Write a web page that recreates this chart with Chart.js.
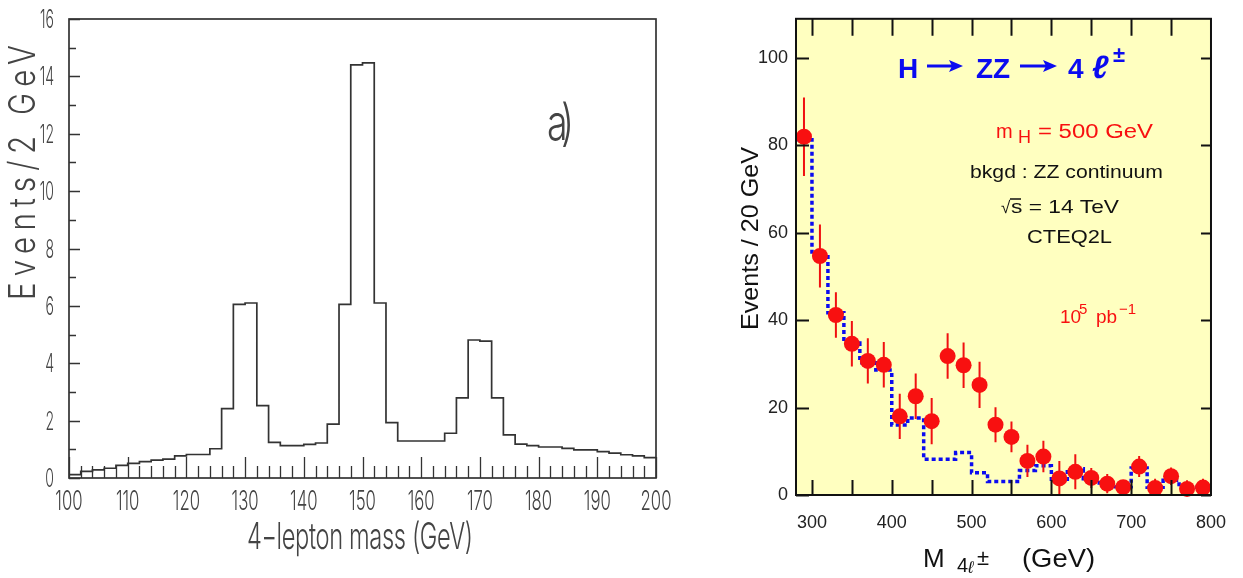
<!DOCTYPE html>
<html>
<head>
<meta charset="utf-8">
<script src="https://cdn.jsdelivr.net/npm/chart.js@4.4.1/dist/chart.umd.min.js"></script>
<style>
  html, body { margin: 0; padding: 0; background: #fff; }
  #wrap { position: relative; width: 1243px; height: 578px; overflow: hidden; }
  #left { position: absolute; left: 0; top: 0; }
  #right { position: absolute; left: 680px; top: 0; }
</style>
</head>
<body>
<div id="wrap">
  <canvas id="left" width="680" height="578"></canvas>
  <canvas id="right" width="563" height="578"></canvas>
</div>
<script>
// ---- left panel: 4-lepton mass, 2 GeV bins ----
var leftEdges = [100, 102, 104, 106, 108, 110, 112, 114, 116, 118,
                 120, 122, 124, 126, 128, 130, 132, 134, 136, 138,
                 140, 142, 144, 146, 148, 150, 152, 154, 156, 158,
                 160, 162, 164, 166, 168, 170, 172, 174, 176, 178,
                 180, 182, 184, 186, 188, 190, 192, 194, 196, 198, 200];
var leftCounts = [0.12, 0.23, 0.28, 0.34, 0.44, 0.51, 0.57, 0.62, 0.66, 0.77,
                  0.82, 0.82, 1.02, 2.42, 6.05, 6.10, 2.52, 1.24, 1.13, 1.13,
                  1.17, 1.22, 1.88, 6.05, 14.40, 14.47, 6.10, 1.93, 1.29, 1.29,
                  1.29, 1.29, 1.56, 2.79, 4.81, 4.77, 2.79, 1.50, 1.18, 1.13,
                  1.08, 1.08, 1.03, 0.98, 0.98, 0.92, 0.87, 0.81, 0.77, 0.71];
var leftXTicks = [100, 110, 120, 130, 140, 150, 160, 170, 180, 190, 200];
var leftYTicks = [0, 2, 4, 6, 8, 10, 12, 14, 16];

// ---- right panel: H -> ZZ -> 4l, 20 GeV bins ----
var rightEdges = [280, 300, 320, 340, 360, 380, 400, 420, 440, 460, 480, 500, 520, 540,
                  560, 580, 600, 620, 640, 660, 680, 700, 720, 740, 760, 780, 800];
var bkgdCounts = [81.3, 55.0, 41.7, 34.8, 30.3, 28.6, 16.0, 17.6, 8.2, 8.2, 9.7, 5.1, 3.1,
                  3.1, 5.6, 6.7, 3.1, 6.0, 3.7, 2.2, 1.9, 6.2, 1.8, 3.4, 1.8, 1.8];
var massPoints = [290, 310, 330, 350, 370, 390, 410, 430, 450, 470, 490, 510, 530,
                  550, 570, 590, 610, 630, 650, 670, 690, 710, 730, 750, 770, 790];
var signalCounts = [82.0, 54.7, 41.2, 34.6, 30.7, 29.8, 18.0, 22.6, 16.9, 31.8, 29.7, 25.2, 16.1,
                    13.3, 7.8, 8.8, 3.8, 5.3, 3.9, 2.6, 1.8, 6.5, 1.6, 4.3, 1.4, 1.7];
var signalErrors = [9.0, 7.2, 5.2, 5.2, 5.2, 5.2, 5.2, 5.2, 5.3, 5.2, 5.2, 5.3, 4.0,
                    3.5, 3.7, 3.6, 4.0, 4.0, 2.3, 2.2, 1.6, 2.4, 2.1, 2.0, 2.0, 2.0];
var rightXTicks = [300, 400, 500, 600, 700, 800];
var rightYTicks = [0, 20, 40, 60, 80, 100];

var thin = 'Inter, "DejaVu Sans Condensed", sans-serif';
var helv = '"Liberation Sans", Arial, sans-serif';

function stepPoints(edges, counts) {
  return edges.map(function (e, i) {
    return { x: e, y: counts[Math.min(i, counts.length - 1)] };
  });
}

function setTicks(list) {
  return function (scale) {
    scale.ticks = list.map(function (v) { return { value: v }; });
  };
}

// free text piece: sx squeezes glyphs, w spreads letters to a target width
function drawPiece(ctx, p) {
  ctx.save();
  ctx.font = p.font;
  ctx.fillStyle = p.color;
  ctx.textBaseline = 'alphabetic';
  ctx.textAlign = p.align || 'left';
  ctx.translate(p.x, p.y);
  if (p.rot) ctx.rotate(p.rot);
  var sx = p.sx || 1;
  if (p.w) {
    var natural = ctx.measureText(p.t).width;
    if (p.sx) {
      ctx.letterSpacing = ((p.w / sx - natural) / Math.max(1, p.t.length - 1)) + 'px';
    } else {
      sx = p.w / natural;
    }
  }
  ctx.scale(sx, 1);
  ctx.fillText(p.t, 0, 0);
  ctx.restore();
}

// frame + inside tick marks
var frameTicks = {
  id: 'frameTicks',
  afterDatasetsDraw: function (chart, args, opts) {
    var ctx = chart.ctx, a = chart.chartArea;
    var xs = chart.scales.x, ys = chart.scales.y;
    ctx.save();
    ctx.strokeStyle = opts.color;
    ctx.lineWidth = opts.tickWidth;
    ctx.beginPath();
    opts.marks.forEach(function (m) {
      for (var v = m.from; v <= m.to + 1e-9; v += m.step) {
        if (m.side === 'bottom' || m.side === 'top') {
          var px = Math.round(xs.getPixelForValue(v)) + 0.5;
          var y0 = m.side === 'bottom' ? a.bottom : a.top;
          var dir = m.side === 'bottom' ? -1 : 1;
          ctx.moveTo(px, y0);
          ctx.lineTo(px, y0 + dir * m.len);
        } else {
          var py = Math.round(ys.getPixelForValue(v)) + 0.5;
          var x0 = m.side === 'left' ? a.left : a.right;
          var d = m.side === 'left' ? 1 : -1;
          ctx.moveTo(x0, py);
          ctx.lineTo(x0 + d * m.len, py);
        }
      }
    });
    ctx.stroke();
    ctx.lineWidth = opts.frameWidth;
    ctx.strokeRect(a.left, a.top, a.right - a.left, a.bottom - a.top);
    ctx.restore();
  }
};

// narrow tick labels taken from the chart's own scale ticks
var narrowTicks = {
  id: 'narrowTicks',
  afterDraw: function (chart, args, opts) {
    var ctx = chart.ctx, xs = chart.scales.x, ys = chart.scales.y;
    xs.ticks.forEach(function (t) {
      drawPiece(ctx, { t: String(t.value), x: xs.getPixelForValue(t.value), y: opts.xBase,
        align: 'center', sx: opts.xsx, font: opts.xFont, color: opts.color });
    });
    ys.ticks.forEach(function (t) {
      drawPiece(ctx, { t: String(t.value), x: opts.yRight, y: ys.getPixelForValue(t.value) + opts.yShift,
        align: 'right', sx: opts.ysx, font: opts.yFont, color: opts.color });
    });
  }
};

var texts = {
  id: 'texts',
  afterDraw: function (chart, args, opts) {
    var ctx = chart.ctx;
    (opts.pieces || []).forEach(function (p) { drawPiece(ctx, p); });
    (opts.arrows || []).forEach(function (r) {
      ctx.save();
      ctx.strokeStyle = r.color;
      ctx.fillStyle = r.color;
      ctx.lineWidth = 3;
      ctx.beginPath();
      ctx.moveTo(r.x0, r.y);
      ctx.lineTo(r.x1 - 10, r.y);
      ctx.stroke();
      ctx.beginPath();
      ctx.moveTo(r.x1, r.y);
      ctx.lineTo(r.x1 - 14, r.y - 6);
      ctx.lineTo(r.x1 - 11, r.y);
      ctx.lineTo(r.x1 - 14, r.y + 6);
      ctx.closePath();
      ctx.fill();
      ctx.restore();
    });
    (opts.lines || []).forEach(function (l) {
      ctx.save();
      ctx.strokeStyle = l.color;
      ctx.lineWidth = 1.5;
      ctx.beginPath();
      ctx.moveTo(l.x0, l.y);
      ctx.lineTo(l.x1, l.y);
      ctx.stroke();
      ctx.restore();
    });
  }
};

// yellow plot background
var plotBg = {
  id: 'plotBg',
  beforeDatasetsDraw: function (chart, args, opts) {
    var a = chart.chartArea, ctx = chart.ctx;
    ctx.save();
    ctx.fillStyle = opts.color;
    ctx.fillRect(a.left, a.top, a.right - a.left, a.bottom - a.top);
    ctx.restore();
  }
};

// vertical error bars under the red points
var errorBars = {
  id: 'errorBars',
  beforeDatasetDraw: function (chart, args) {
    if (args.index !== 0) return;
    var ctx = chart.ctx, xs = chart.scales.x, ys = chart.scales.y;
    ctx.save();
    ctx.strokeStyle = '#f01010';
    ctx.lineWidth = 2;
    ctx.beginPath();
    massPoints.forEach(function (m, i) {
      var px = xs.getPixelForValue(m);
      ctx.moveTo(px, ys.getPixelForValue(Math.max(0, signalCounts[i] - signalErrors[i])));
      ctx.lineTo(px, ys.getPixelForValue(signalCounts[i] + signalErrors[i]));
    });
    ctx.stroke();
    ctx.restore();
  }
};

var grayText = '#444';

new Chart(document.getElementById('left'), {
  type: 'line',
  data: {
    datasets: [{
      data: stepPoints(leftEdges, leftCounts),
      stepped: 'before',
      borderColor: '#333',
      borderWidth: 1.7,
      pointRadius: 0,
      fill: false
    }]
  },
  options: {
    responsive: false,
    animation: false,
    layout: { autoPadding: false, padding: { top: 19, right: 24, left: 0, bottom: 0 } },
    plugins: {
      legend: { display: false },
      tooltip: { enabled: false },
      frameTicks: {
        color: '#333', tickWidth: 1.3, frameWidth: 1.7,
        marks: [
          { side: 'bottom', from: 100, to: 200, step: 2, len: 12 },
          { side: 'bottom', from: 100, to: 200, step: 10, len: 21 },
          { side: 'left', from: 0, to: 16, step: 1, len: 7 },
          { side: 'left', from: 0, to: 16, step: 2, len: 11 }
        ]
      },
      narrowTicks: {
        color: grayText, xsx: 0.62, ysx: 0.54, xFont: '300 27px ' + thin, yFont: '300 26px ' + thin,
        xBase: 510, yRight: 54, yShift: 9
      },
      texts: {
        pieces: [
          { t: 'Events/2 GeV', x: 35, y: 300, rot: -Math.PI / 2, w: 255, sx: 0.8, font: '300 37px ' + thin, color: grayText },
          { t: '4\u2212lepton mass (GeV)', x: 247, y: 549, w: 226, sx: 0.64, font: '300 37px ' + thin, color: grayText },
          { t: 'a)', x: 547, y: 140, w: 27, sx: 0.75, font: '300 50px ' + thin, color: grayText }
        ]
      }
    },
    scales: {
      x: {
        type: 'linear', min: 100, max: 200,
        afterBuildTicks: setTicks(leftXTicks),
        afterFit: function (s) { s.height = 100; },
        grid: { display: false, drawTicks: false },
        border: { display: false },
        ticks: { display: false }
      },
      y: {
        type: 'linear', min: 0, max: 16,
        afterBuildTicks: setTicks(leftYTicks),
        afterFit: function (s) { s.width = 69; },
        grid: { display: false, drawTicks: false },
        border: { display: false },
        ticks: { display: false }
      }
    }
  },
  plugins: [frameTicks, narrowTicks, texts]
});

var blue = '#0b0bf0';
var red = '#f81010';

new Chart(document.getElementById('right'), {
  type: 'scatter',
  data: {
    datasets: [{
      data: massPoints.map(function (m, i) { return { x: m, y: signalCounts[i] }; }),
      backgroundColor: red,
      borderColor: red,
      borderWidth: 0,
      pointRadius: 8,
      clip: false
    }, {
      type: 'line',
      data: stepPoints(rightEdges, bkgdCounts),
      stepped: 'before',
      borderColor: blue,
      borderWidth: 3.5,
      borderDash: [4, 3],
      borderCapStyle: 'butt',
      pointRadius: 0,
      fill: false
    }]
  },
  options: {
    responsive: false,
    animation: false,
    layout: { autoPadding: false, padding: { top: 3, right: 32, left: 0, bottom: 0 } },
    plugins: {
      legend: { display: false },
      tooltip: { enabled: false },
      plotBg: { color: '#ffffc0' },
      frameTicks: {
        color: '#111', tickWidth: 2, frameWidth: 2,
        marks: [
          { side: 'bottom', from: 300, to: 750, step: 50, len: 15 },
          { side: 'top', from: 300, to: 750, step: 50, len: 17 },
          { side: 'left', from: 0, to: 100, step: 20, len: 13 },
          { side: 'right', from: 0, to: 100, step: 20, len: 10 }
        ]
      },
      texts: {
        pieces: [
          { t: 'H', x: 218, y: 78, font: 'bold 28px ' + helv, color: blue },
          { t: 'ZZ', x: 296, y: 78, font: 'bold 28px ' + helv, color: blue },
          { t: '4', x: 388, y: 78, font: 'bold 28px ' + helv, color: blue },
          { t: '\u2113', x: 412, y: 78, font: 'italic bold 32px ' + helv, color: blue },
          { t: '\u00b1', x: 433, y: 62, font: 'bold 22px ' + helv, color: blue },

          { t: 'm', x: 316, y: 138, font: '20px ' + helv, color: red },
          { t: 'H', x: 338, y: 143, font: '18px ' + helv, color: red },
          { t: '= 500 GeV', x: 358, y: 138, w: 115, font: '20px ' + helv, color: red },

          { t: 'bkgd : ZZ continuum', x: 290, y: 178, w: 193, font: '19px ' + helv, color: '#111' },
          { t: '\u221a', x: 321, y: 213, font: '17px ' + helv, color: '#111' },
          { t: 's = 14 TeV', x: 331, y: 213, w: 108, font: '19px ' + helv, color: '#111' },
          { t: 'CTEQ2L', x: 347, y: 243, w: 85, font: '19px ' + helv, color: '#111' },

          { t: '10', x: 380, y: 323, font: '19px ' + helv, color: red },
          { t: '5', x: 399, y: 314, font: '15px ' + helv, color: red },
          { t: 'pb', x: 416, y: 323, font: '19px ' + helv, color: red },
          { t: '\u22121', x: 439, y: 314, font: '15px ' + helv, color: red },

          { t: 'Events / 20 GeV', x: 78, y: 330, rot: -Math.PI / 2, w: 183, font: '24px ' + helv, color: '#111' },
          { t: 'M', x: 243, y: 567, font: '26px ' + helv, color: '#111' },
          { t: '4', x: 277, y: 572, font: '20px ' + helv, color: '#111' },
          { t: '\u2113', x: 288, y: 573, font: 'italic 17px ' + helv, color: '#111' },
          { t: '\u00b1', x: 297, y: 565, font: '22px ' + helv, color: '#111' },
          { t: '(GeV)', x: 342, y: 567, w: 73, font: '26px ' + helv, color: '#111' }
        ],
        arrows: [
          { x0: 247, x1: 283, y: 66, color: blue },
          { x0: 340, x1: 377, y: 66, color: blue }
        ],
        lines: [
          { x0: 330, x1: 341, y: 199, color: '#111' }
        ]
      }
    },
    scales: {
      x: {
        type: 'linear', min: 280, max: 800,
        afterBuildTicks: setTicks(rightXTicks),
        afterFit: function (s) { s.height = 83; },
        grid: { display: false, drawTicks: false },
        border: { display: false },
        ticks: { color: '#222', font: { family: helv, size: 18 }, padding: 17, maxRotation: 0, autoSkip: false }
      },
      y: {
        type: 'linear', min: 0, max: 109,
        afterBuildTicks: setTicks(rightYTicks),
        afterFit: function (s) { s.width = 116; },
        grid: { display: false, drawTicks: false },
        border: { display: false },
        ticks: { color: '#222', font: { family: helv, size: 18 }, padding: 8, autoSkip: false }
      }
    }
  },
  plugins: [plotBg, errorBars, frameTicks, texts]
});
</script>
</body>
</html>
